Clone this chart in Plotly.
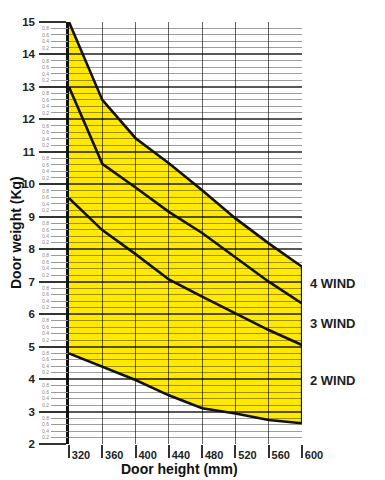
import plotly.graph_objects as go

# ---- data ----
heights = [320, 360, 400, 440, 480, 520, 560, 600]
wind4_max = [15.0, 12.6, 11.42, 10.65, 9.82, 8.95, 8.18, 7.46]
wind3_max = [13.0, 10.63, 9.9, 9.15, 8.5, 7.75, 7.0, 6.33]
wind2_max = [9.57, 8.59, 7.85, 7.07, 6.54, 6.03, 5.51, 5.05]
wind2_min = [4.79, 4.38, 3.97, 3.5, 3.1, 2.94, 2.74, 2.64]

x_ticks = [320, 360, 400, 440, 480, 520, 560, 600]
y_major = list(range(2, 16))
y_minor = [round(v + f, 1) for v in range(2, 15) for f in (0.2, 0.4, 0.6, 0.8)]
y_minor_text = [f"{f:.1f}" for v in range(2, 15) for f in (0.2, 0.4, 0.6, 0.8)]

wind_labels = ["4 WIND", "3 WIND", "2 WIND"]
wind_label_y = [6.95, 5.7, 3.95]

YELLOW = "#FFE900"
FONT = "Liberation Sans"

fig = go.Figure()

# yellow band (below the grid so grid shows through)
pts = list(zip(heights, wind4_max)) + list(zip(heights[::-1], wind2_min[::-1]))
path = "M " + " L ".join(f"{x},{y}" for x, y in pts) + " Z"
fig.add_shape(type="path", path=path, xref="x", yref="y", layer="below",
              fillcolor=YELLOW, line=dict(width=0))

for series in (wind4_max, wind3_max, wind2_max, wind2_min):
    fig.add_trace(go.Scatter(x=heights, y=series, mode="lines",
                             line=dict(color="#111111", width=2.6),
                             hoverinfo="skip", showlegend=False))
# right edge of the band
fig.add_trace(go.Scatter(x=[heights[-1], heights[-1]], y=[wind4_max[-1], wind2_min[-1]],
                         mode="lines", line=dict(color="#111111", width=2.2),
                         hoverinfo="skip", showlegend=False))

# invisible trace to activate the minor-label axis
fig.add_trace(go.Scatter(x=[heights[0]], y=[y_major[0]], yaxis="y2", mode="markers",
                         marker=dict(opacity=0), hoverinfo="skip", showlegend=False))

for lab, yy in zip(wind_labels, wind_label_y):
    fig.add_annotation(x=heights[-1], y=yy, text=f"<b>{lab}</b>", showarrow=False,
                       xanchor="left", xshift=6, font=dict(family=FONT, size=13, color="#222"))

# axis titles
fig.add_annotation(xref="paper", yref="paper", x=0.475, y=0, yshift=-25, yanchor="middle",
                   text="<b>Door height (mm)</b>", showarrow=False,
                   font=dict(family=FONT, size=14, color="#111"))
fig.add_annotation(xref="paper", yref="paper", x=0, xshift=-53, y=0.5, xanchor="center",
                   text="<b>Door weight (Kg)</b>", showarrow=False, textangle=-90,
                   font=dict(family=FONT, size=14, color="#111"))

fig.update_layout(
    width=385, height=480,
    margin=dict(l=61, r=91, t=14, b=44, autoexpand=False),
    paper_bgcolor="white", plot_bgcolor="rgba(0,0,0,0)",
    font=dict(family=FONT, color="#222"),
    xaxis=dict(
        range=[320, 600], tickvals=x_ticks, ticktext=[f"<b>{t}</b>" for t in x_ticks],
        showgrid=True, gridcolor="rgba(0,0,0,0.6)", gridwidth=1.2,
        ticks="outside", ticklen=13, tickwidth=1.5, tickcolor="#333",
        tickfont=dict(family=FONT, size=11, color="#222"),
        ticklabelshift=12, ticklabelstandoff=-12,
        zeroline=False, showline=False, automargin=False,
    ),
    yaxis=dict(
        range=[2, 15], tickvals=y_major, ticktext=[f"<b>{t}</b>" for t in y_major],
        showgrid=True, gridcolor="rgba(0,0,0,0.65)", gridwidth=1.6,
        minor=dict(tickvals=y_minor, showgrid=True, gridcolor="rgba(0,0,0,0.38)",
                   gridwidth=1.4, ticks=""),
        ticks="outside", ticklen=27, tickwidth=2, tickcolor="#333",
        tickfont=dict(family=FONT, size=11.5, color="#222"),
        ticklabelstandoff=2,
        showline=True, linecolor="#111", linewidth=2.5,
        zeroline=False, automargin=False,
    ),
    yaxis2=dict(
        range=[2, 15], overlaying="y", side="left", anchor="x",
        tickvals=y_minor, ticktext=y_minor_text,
        ticks="outside", ticklen=17, tickwidth=1.3, tickcolor="#999",
        tickfont=dict(family=FONT, size=5, color="#888"),
        ticklabelstandoff=1, showgrid=False, zeroline=False, showline=False,
        automargin=False,
    ),
)

fig.write_html("out.html")
